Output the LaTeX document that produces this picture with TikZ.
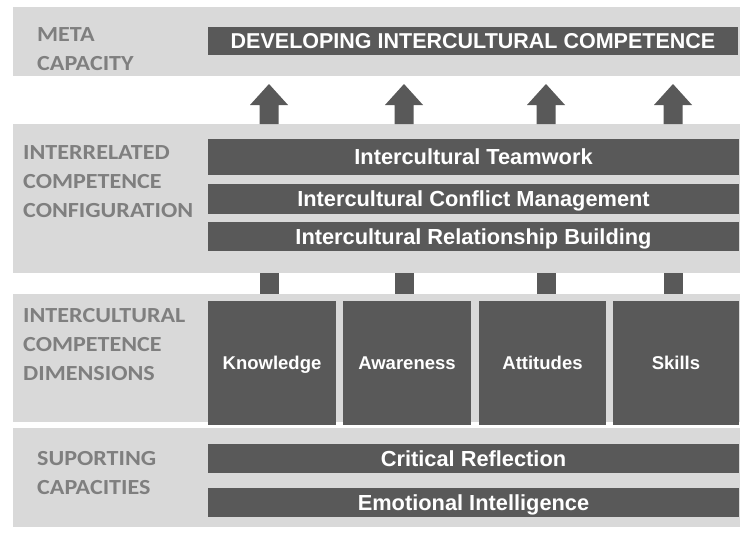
\documentclass[tikz,border=0pt]{standalone}
\usepackage{fontspec}
\setmainfont{Liberation Sans}
\newfontfamily\labfont{Carlito}[FakeStretch=1.12]
\definecolor{bandgrey}{HTML}{D9D9D9}
\definecolor{darkbox}{HTML}{595959}
\definecolor{labgrey}{HTML}{7F7F7F}
\begin{document}
\begin{tikzpicture}[x=1pt,y=-1pt,
  band/.style={fill=bandgrey,draw=none,inner sep=0,rectangle},
  dbox/.style={fill=darkbox,draw=none,inner sep=0,rectangle,text=white,text height=15.6pt,text depth=0pt,font=\bfseries\fontsize{21.8}{24}\selectfont},
  dimbox/.style={dbox,text height=13.2pt,font=\bfseries\fontsize{18.5}{22}\selectfont},
  lab/.style={anchor=north west,inner sep=0,align=left,text=labgrey,font=\labfont\bfseries\fontsize{21.5}{29}\selectfont},
  link/.style={fill=darkbox,draw=none}
]
\useasboundingbox[fill=white] (0,0) rectangle (740,536);
% bands
\node[band,minimum width=727,minimum height=69] (b1) at (376.5,41.5) {};
\node[band,minimum width=727,minimum height=149] (b2) at (376.5,198.5) {};
\node[band,minimum width=727,minimum height=128] (b3) at (376.5,358) {};
\node[band,minimum width=727,minimum height=99] (b4) at (376.5,477.5) {};
% labels
\node[lab] (l1) at (37,27) {META\\CAPACITY};
\node[lab] (l2) at (23,145) {INTERRELATED\\COMPETENCE\\CONFIGURATION};
\node[lab] (l3) at (23,308) {INTERCULTURAL\\COMPETENCE\\DIMENSIONS};
\node[lab] (l4) at (37,451) {SUPORTING\\CAPACITIES};
% top box
\node[dbox,minimum width=530,minimum height=28,text height=15.4pt,font=\bfseries\fontsize{21.5}{24}\selectfont] (dev) at (473,41) {DEVELOPING INTERCULTURAL COMPETENCE};
% configuration
\node[dbox,minimum width=531,minimum height=36] (team) at (473.5,157) {Intercultural Teamwork};
\node[dbox,minimum width=531,minimum height=30] (conf) at (473.5,199) {Intercultural Conflict Management};
\node[dbox,minimum width=531,minimum height=29] (rel) at (473.5,236.5) {Intercultural Relationship Building};
% dimensions
\node[dimbox,minimum width=128,minimum height=124] (know) at (272,363) {Knowledge};
\node[dimbox,minimum width=128,minimum height=124] (aware) at (407,363) {Awareness};
\node[dimbox,minimum width=127,minimum height=124] (att) at (542.5,363) {Attitudes};
\node[dimbox,minimum width=126,minimum height=124] (skill) at (676,363) {Skills};
% supporting
\node[dbox,minimum width=531,minimum height=29] (crit) at (473.5,458.5) {Critical Reflection};
\node[dbox,minimum width=531,minimum height=29] (emo) at (473.5,502.5) {Emotional Intelligence};
% links between dimensions and configuration
\foreach \n/\x in {know/269,aware/404,att/546,skill/673}{
  \fill[link] (\x-9.5,273) rectangle (\x+9.5,294);
  \fill[link] (\x-9.5,124) -- (\x-9.5,105) -- (\x-19,105) -- (\x,84) -- (\x+19,105) -- (\x+9.5,105) -- (\x+9.5,124) -- cycle;
}
\end{tikzpicture}
\end{document}
